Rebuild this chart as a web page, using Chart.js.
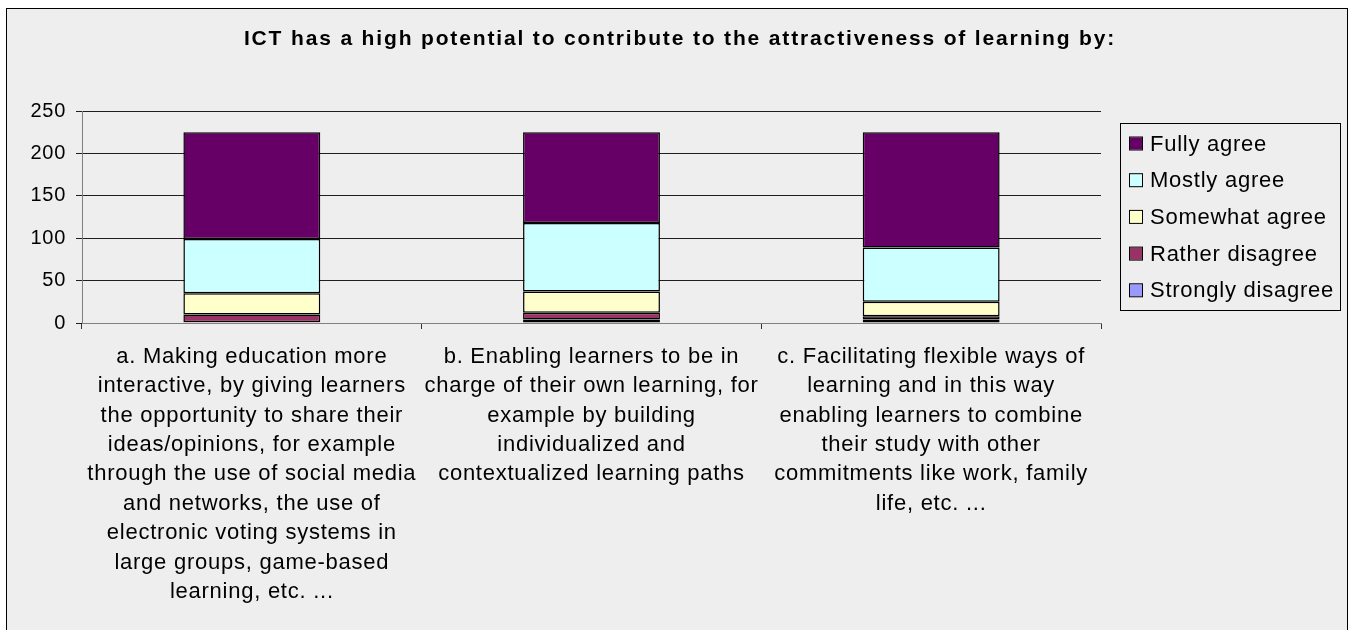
<!DOCTYPE html>
<html lang="en">
<head>
    <meta charset="UTF-8">
    <title>ICT and the attractiveness of learning</title>
    <script src="https://cdn.jsdelivr.net/npm/chart.js"></script>
    <style>
        html, body { margin: 0; padding: 0; background: #ffffff; }
        #wrap { width: 1352px; height: 630px; }
    </style>
</head>
<body>
    <div id="wrap"><canvas id="ictChart"></canvas></div>

    <script>
        // Survey answers per statement (number of respondents)
        const statements = [
            ['a. Making education more', 'interactive, by giving learners', 'the opportunity to share their',
             'ideas/opinions, for example', 'through the use of social media', 'and networks, the use of',
             'electronic voting systems in', 'large groups, game-based', 'learning, etc. ...'],
            ['b. Enabling learners to be in', 'charge of their own learning, for', 'example by building',
             'individualized and', 'contextualized learning paths'],
            ['c. Facilitating flexible ways of', 'learning and in this way', 'enabling learners to combine',
             'their study with other', 'commitments like work, family', 'life, etc. ...']
        ];
        const stronglyDisagree = [1, 4, 4];
        const ratherDisagree   = [9, 8, 4];
        const somewhatAgree    = [25, 25, 17];
        const mostlyAgree      = [64, 81, 64];
        const fullyAgree       = [126, 107, 136];
        const yTicks = [0, 50, 100, 150, 200, 250];

        const chartTitle = 'ICT has a high potential to contribute to the attractiveness of learning by:';
        const FONT = '"Liberation Sans", Arial, sans-serif';

        function series(label, data, color) {
            return {
                label: label,
                data: data,
                backgroundColor: color,
                borderColor: '#000000',
                borderWidth: 1.5,
                borderSkipped: false,
                categoryPercentage: 1.0,
                barPercentage: 0.403
            };
        }

        // grey panel, title and boxed legend drawn around the chart
        const excelFrame = {
            id: 'excelFrame',
            beforeDraw(chart) {
                const ctx = chart.ctx;
                ctx.save();
                ctx.fillStyle = '#eeeeee';
                ctx.fillRect(7, 8, 1340, 640);
                ctx.strokeStyle = '#000000';
                ctx.lineWidth = 1;
                ctx.strokeRect(6.5, 8.5, 1341, 640);
                ctx.restore();
                // the axis labels are set a little wide, like the office chart
                ctx.letterSpacing = '0.75px';
            },
            afterDraw(chart) {
                const ctx = chart.ctx;
                ctx.save();
                ctx.fillStyle = '#000000';
                ctx.font = 'bold 21px ' + FONT;
                ctx.textAlign = 'center';
                ctx.textBaseline = 'middle';
                ctx.letterSpacing = '1.85px';
                ctx.fillText(chartTitle, 680, 39);

                // legend box
                ctx.fillStyle = '#eeeeee';
                ctx.fillRect(1121, 124, 220, 186);
                ctx.strokeStyle = '#000000';
                ctx.lineWidth = 1;
                ctx.strokeRect(1120.5, 123.5, 220, 187);

                const sets = chart.data.datasets.slice().reverse();
                ctx.font = '22px ' + FONT;
                ctx.letterSpacing = '0.75px';
                ctx.textAlign = 'left';
                sets.forEach((ds, i) => {
                    const cy = 143.5 + i * 36.7;
                    ctx.fillStyle = ds.backgroundColor;
                    ctx.fillRect(1130, cy - 6, 12, 12);
                    ctx.strokeStyle = '#000000';
                    ctx.strokeRect(1129.5, cy - 6.5, 13, 13);
                    ctx.fillStyle = '#000000';
                    ctx.fillText(ds.label, 1150, cy + 1);
                });
                ctx.restore();
                ctx.letterSpacing = '0px';
            }
        };

        const ctx = document.getElementById('ictChart').getContext('2d');
        new Chart(ctx, {
            type: 'bar',
            data: {
                labels: statements,
                datasets: [
                    series('Strongly disagree', stronglyDisagree, '#9999ff'),
                    series('Rather disagree', ratherDisagree, '#993366'),
                    series('Somewhat agree', somewhatAgree, '#ffffcc'),
                    series('Mostly agree', mostlyAgree, '#ccffff'),
                    series('Fully agree', fullyAgree, '#660066')
                ]
            },
            options: {
                responsive: true,
                maintainAspectRatio: false,
                animation: false,
                events: [],
                layout: { padding: { left: 0, right: 251, top: 111, bottom: 0 } },
                plugins: {
                    legend: { display: false },
                    title: { display: false },
                    tooltip: { enabled: false }
                },
                scales: {
                    x: {
                        stacked: true,
                        afterFit(scale) { scale.height = 307; },
                        grid: {
                            offset: true,
                            drawOnChartArea: false,
                            drawTicks: true,
                            tickLength: 6,
                            color: '#333333'
                        },
                        border: { color: '#808080', width: 1 },
                        ticks: {
                            color: '#000000',
                            font: { family: FONT, size: 22, lineHeight: 1.336 },
                            maxRotation: 0,
                            autoSkip: false,
                            padding: 13
                        }
                    },
                    y: {
                        stacked: true,
                        min: 0,
                        max: 250,
                        afterFit(scale) { scale.width = 82; },
                        afterBuildTicks(scale) { scale.ticks = yTicks.map(v => ({ value: v })); },
                        grid: {
                            color: '#1e1e1e',
                            lineWidth: 1,
                            tickLength: 6
                        },
                        border: { color: '#808080', width: 1 },
                        ticks: {
                            color: '#000000',
                            font: { family: FONT, size: 20 },
                            padding: 10
                        }
                    }
                }
            },
            plugins: [excelFrame]
        });
    </script>
</body>
</html>
